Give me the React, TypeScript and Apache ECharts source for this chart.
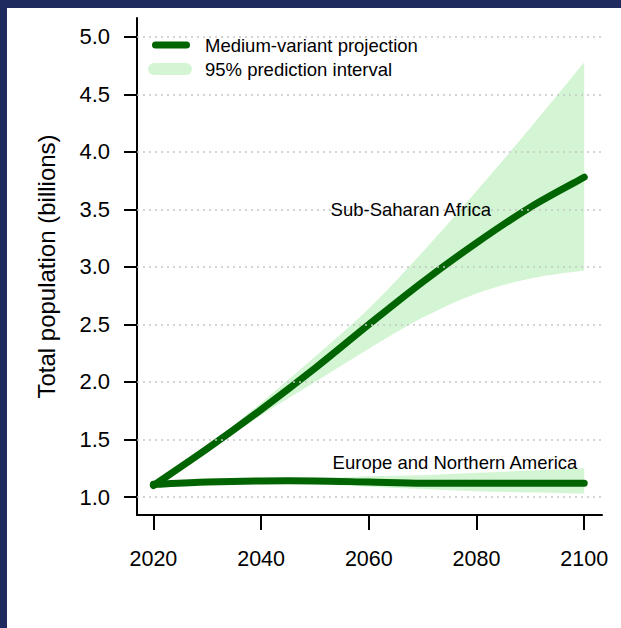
import React, { useEffect, useRef } from "react";
import * as echarts from "echarts";

const years = [2020, 2030, 2040, 2050, 2060, 2070, 2080, 2090, 2100];
const ssaMedian = [1.1, 1.42, 1.76, 2.12, 2.5, 2.87, 3.21, 3.52, 3.78];
const ssaLower = [1.1, 1.4, 1.71, 2.0, 2.29, 2.56, 2.77, 2.9, 2.97];
const ssaUpper = [1.1, 1.44, 1.82, 2.22, 2.64, 3.13, 3.66, 4.21, 4.78];
const eurMedian = [1.11, 1.13, 1.14, 1.14, 1.13, 1.12, 1.12, 1.12, 1.12];
const eurLower = [1.11, 1.12, 1.12, 1.11, 1.09, 1.07, 1.05, 1.04, 1.03];
const eurUpper = [1.11, 1.14, 1.15, 1.16, 1.18, 1.19, 1.21, 1.23, 1.25];
const xTicks = [2020, 2040, 2060, 2080, 2100];
const yTicks = [1.0, 1.5, 2.0, 2.5, 3.0, 3.5, 4.0, 4.5, 5.0];
const regionLabels = [
  { name: "Sub-Saharan Africa", x: 2067.8, y: 3.5 },
  { name: "Europe and Northern America", x: 2076.0, y: 1.3 },
];

const FONT = "'Liberation Sans', Arial, Helvetica, sans-serif";
const DARK = "#006400";
const LIGHT = "#d3f5d3";
const NAVY = "#1f2b5e";

// Catmull-Rom spline through pixel points, as SVG cubic segments
function splineSegments(pts: number[][]): string {
  let d = "";
  for (let i = 0; i < pts.length - 1; i++) {
    const p0 = pts[Math.max(0, i - 1)];
    const p1 = pts[i];
    const p2 = pts[i + 1];
    const p3 = pts[Math.min(pts.length - 1, i + 2)];
    const c1x = p1[0] + (p2[0] - p0[0]) / 6;
    const c1y = p1[1] + (p2[1] - p0[1]) / 6;
    const c2x = p2[0] - (p3[0] - p1[0]) / 6;
    const c2y = p2[1] - (p3[1] - p1[1]) / 6;
    d += ` C ${c1x} ${c1y} ${c2x} ${c2y} ${p2[0]} ${p2[1]}`;
  }
  return d;
}

export default function App() {
  const ref = useRef<HTMLDivElement>(null);
  useEffect(() => {
    if (!ref.current) return;
    const chart = echarts.init(ref.current, null, { renderer: "svg" });

    const bandSeries = (lower: number[], upper: number[]) => ({
      type: "custom",
      data: [0],
      silent: true,
      clip: true,
      z: 2,
      renderItem: (_params: any, api: any) => {
        const up = years.map((y, i) => api.coord([y, upper[i]]));
        const lo = years.map((y, i) => api.coord([y, lower[i]])).reverse();
        const d =
          `M ${up[0][0]} ${up[0][1]}` +
          splineSegments(up) +
          ` L ${lo[0][0]} ${lo[0][1]}` +
          splineSegments(lo) +
          " Z";
        return { type: "path", shape: { pathData: d }, style: { fill: LIGHT, stroke: null } };
      },
    });
    const medianSeries = (data: number[]) => ({
      type: "custom",
      data: [0],
      silent: true,
      z: 4,
      renderItem: (_params: any, api: any) => {
        const pts = years.map((y, i) => api.coord([y, data[i]]));
        const d = `M ${pts[0][0]} ${pts[0][1]}` + splineSegments(pts);
        return {
          type: "path",
          shape: { pathData: d },
          style: { fill: null, stroke: DARK, lineWidth: 7, lineCap: "round", lineJoin: "round" },
        };
      },
    });

    chart.setOption({
      animation: false,
      backgroundColor: "#ffffff",
      textStyle: { fontFamily: FONT, color: "#000" },
      grid: { left: 137, right: 19, top: 18, bottom: 113, containLabel: false },
      xAxis: {
        type: "value",
        min: 2016.95,
        max: 2103.3,
        axisLine: { show: true, onZero: false, lineStyle: { color: "#000", width: 2 } },
        axisTick: { show: true, customValues: xTicks, length: 15, lineStyle: { color: "#000", width: 2 } },
        axisLabel: {
          show: true,
          customValues: xTicks,
          margin: 33,
          fontSize: 21.5,
          color: "#000",
          fontFamily: FONT,
          formatter: (v: number) => String(v),
        },
        splitLine: { show: false },
      },
      yAxis: {
        type: "value",
        min: 0.8435,
        max: 5.165,
        name: "Total population (billions)",
        nameLocation: "middle",
        nameGap: 79,
        nameTextStyle: { fontSize: 24, color: "#000", fontFamily: FONT },
        axisLine: { show: true, onZero: false, lineStyle: { color: "#000", width: 2 } },
        axisTick: { show: true, customValues: yTicks, length: 13, lineStyle: { color: "#000", width: 2 } },
        axisLabel: {
          show: true,
          customValues: yTicks,
          margin: 27,
          fontSize: 22,
          color: "#000",
          fontFamily: FONT,
          formatter: (v: number) => v.toFixed(1),
        },
        splitLine: { show: false },
      },
      series: [
        {
          type: "line",
          data: [],
          silent: true,
          z: 1,
          markLine: {
            silent: true,
            symbol: "none",
            animation: false,
            label: { show: false },
            lineStyle: { type: [2, 4], color: "#c6c6c6", width: 1.5 },
            data: yTicks.map((v) => ({ yAxis: v })),
          },
        },
        bandSeries(ssaLower, ssaUpper),
        bandSeries(eurLower, eurUpper),
        medianSeries(eurMedian),
        medianSeries(ssaMedian),
        {
          type: "line",
          data: [],
          silent: true,
          z: 6,
          markPoint: {
            symbol: "circle",
            symbolSize: 1,
            silent: true,
            animation: false,
            itemStyle: { color: "rgba(255,255,255,0)" },
            label: {
              show: true,
              position: "inside",
              fontSize: 18.5,
              color: "#000",
              opacity: 1,
              fontFamily: FONT,
              formatter: (p: any) => p.name,
            },
            data: regionLabels.map((r) => ({ name: r.name, coord: [r.x, r.y] })),
          },
        },
      ],
      graphic: [
        { type: "rect", shape: { x: 0, y: 0, width: 621, height: 8 }, style: { fill: NAVY }, z: 100 },
        { type: "rect", shape: { x: 0, y: 0, width: 7, height: 628 }, style: { fill: NAVY }, z: 100 },
        {
          type: "line",
          shape: { x1: 155.5, y1: 45, x2: 186.5, y2: 45 },
          style: { stroke: DARK, lineWidth: 7, lineCap: "round" },
          z: 50,
        },
        {
          type: "rect",
          shape: { x: 148, y: 63, width: 44, height: 12, r: 6 },
          style: { fill: LIGHT },
          z: 50,
        },
        {
          type: "text",
          x: 205,
          y: 45,
          style: { text: "Medium-variant projection", fontSize: 18.5, fontFamily: FONT, fill: "#000", verticalAlign: "middle" },
          z: 50,
        },
        {
          type: "text",
          x: 205,
          y: 69,
          style: { text: "95% prediction interval", fontSize: 18.5, fontFamily: FONT, fill: "#000", verticalAlign: "middle" },
          z: 50,
        },
      ],
    });
    return () => chart.dispose();
  }, []);
  return (
    <div
      ref={ref}
      style={{ position: "fixed", left: 0, top: 0, width: 621, height: 628, background: "#fff" }}
    />
  );
}
